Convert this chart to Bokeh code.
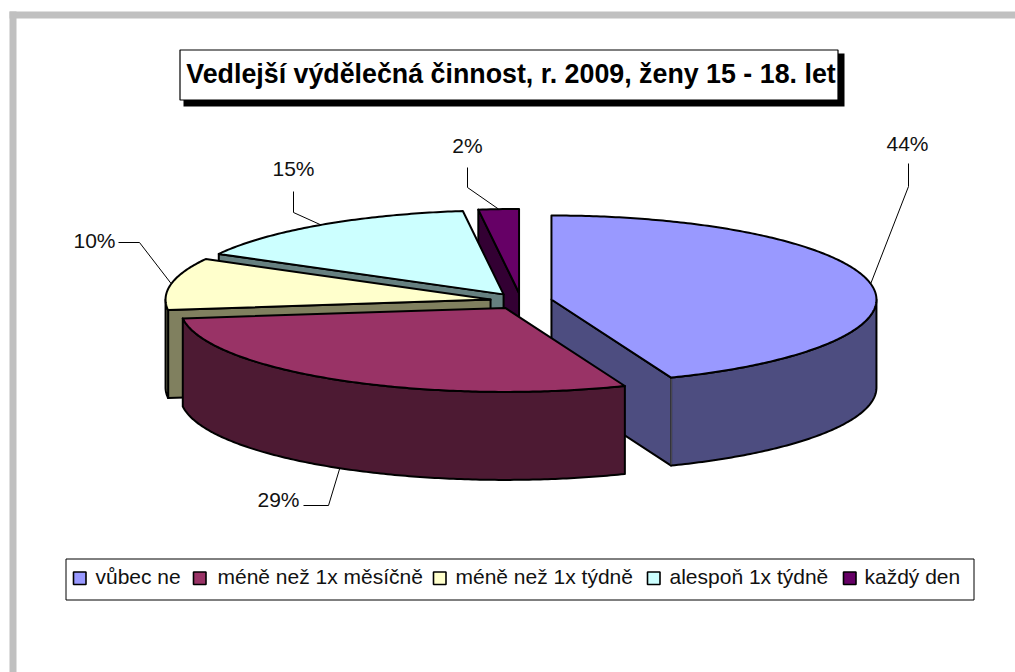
import math
from bokeh.plotting import figure
from bokeh.models import Range1d
from bokeh.core.properties import value
from bokeh.embed import file_html
from bokeh.resources import INLINE

# ---- data ----
categories = ["vůbec ne", "méně než 1x měsíčně", "méně než 1x týdně", "alespoň 1x týdně", "každý den"]
percent = [44, 29, 10, 15, 2]
top_colors = ["#9999FF", "#993366", "#FFFFCC", "#CCFFFF", "#660066"]
wall_colors = ["#4D4D80", "#4D1A33", "#80805F", "#668080", "#330033"]
title = "Vedlejší výdělečná činnost, r. 2009, ženy 15 - 18. let"

# ---- layout of the projected pie ----
CX, CY, RX, RY, DEPTH, EXPLODE = 520.5, 300.5, 325.0, 84.0, 88.0, 31.0
FONT = "Liberation Sans"
elbows = [(908, 186), (328, 505), (139, 242), (293, 212), (467, 187)]
label_ends = [(908, 163), (303, 505), (118, 242), (293, 191), (467, 167)]
label_pos = [(907, 143), (278, 499), (94, 240), (293, 168), (467, 145)]
legend_swatch_x = [73, 193, 433, 647, 843]
legend_text_x = [95, 217, 455, 669, 864]

p = figure(width=1015, height=672, x_range=Range1d(0, 1015), y_range=Range1d(672, 0),
           output_backend="svg", toolbar_location=None, min_border=0,
           x_axis_type=None, y_axis_type=None, background_fill_color="white",
           border_fill_color="white", outline_line_color=None)
p.grid.visible = False

# frame
p.quad(left=[9, 9], right=[1015, 16], top=[11, 11], bottom=[18, 672],
       fill_color="#C0C0C0", line_color=None)


def pt(ox, oy, deg):
    a = math.radians(deg)
    return ox + RX * math.sin(a), oy - RY * math.cos(a)


def arc(ox, oy, a0, a1):
    n = max(2, int(abs(a1 - a0) * 1.5))
    return [pt(ox, oy, a0 + (a1 - a0) * i / n) for i in range(n + 1)]


def poly(points, fill):
    p.patch([q[0] for q in points], [q[1] for q in points], fill_color=fill,
            line_color="black", line_width=2, line_join="round")


# slice geometry from the values
total = sum(percent)
slices = []
acc = 0.0
for i, v in enumerate(percent):
    a0 = acc / total * 360
    acc += v
    a1 = acc / total * 360
    mid = math.radians((a0 + a1) / 2)
    ox = CX + EXPLODE * math.sin(mid)
    oy = CY - EXPLODE * RY / RX * math.cos(mid)
    slices.append((i, a0, a1, (a0 + a1) / 2, ox, oy))

# painter's order: back slices first
for i, a0, a1, mid, ox, oy in [slices[k] for k in (4, 3, 2, 0, 1)]:
    top, wall = top_colors[i], wall_colors[i]
    if 180 < a0 < 360:
        e = pt(ox, oy, a0)
        poly([(ox, oy), e, (e[0], e[1] + DEPTH), (ox, oy + DEPTH)], wall)
    if 0 < a1 < 180:
        e = pt(ox, oy, a1)
        poly([(ox, oy), e, (e[0], e[1] + DEPTH), (ox, oy + DEPTH)], wall)
    lo, hi = max(a0, 90), min(a1, 270)
    if lo < hi:
        rim = arc(ox, oy, lo, hi)
        poly(rim + [(q[0], q[1] + DEPTH) for q in reversed(rim)], wall)
        if 0 < a1 < 180:
            e = pt(ox, oy, a1)
            p.line([e[0], e[0]], [e[1] + 1, e[1] + DEPTH - 1], line_color="#B0B0C8", line_width=0.7)
    poly([(ox, oy)] + arc(ox, oy, a0, a1), top)

# leader lines and labels
for i, a0, a1, mid, ox, oy in slices:
    ax, ay = pt(ox, oy, mid)
    if 90 < mid < 270:
        ay += DEPTH
    p.line([ax, elbows[i][0], label_ends[i][0]], [ay, elbows[i][1], label_ends[i][1]],
           line_color="black", line_width=1)
    p.text([label_pos[i][0]], [label_pos[i][1]], text=[f"{percent[i]}%"],
           text_font=value(FONT), text_font_size="21px", text_color="#111111",
           text_align="center", text_baseline="middle")

# title box
p.quad(left=[183], right=[844], top=[53], bottom=[106], fill_color="black", line_color=None)
p.quad(left=[179.5], right=[837.5], top=[49.5], bottom=[99.5], fill_color="white",
       line_color="black", line_width=1.2)
p.text([510.5], [73], text=[title], text_font=value(FONT), text_font_size="26.8px",
       text_font_style="bold", text_color="black", text_align="center", text_baseline="middle")

# legend
p.quad(left=[65.5], right=[973.5], top=[558.5], bottom=[599.5], fill_color="white",
       line_color="black", line_width=1)
for i, c in enumerate(categories):
    x0 = legend_swatch_x[i]
    p.quad(left=[x0], right=[x0 + 12.5], top=[571.5], bottom=[584], fill_color=top_colors[i],
           line_color="black", line_width=1.6)
    p.text([legend_text_x[i]], [576], text=[c], text_font=value(FONT), text_font_size="21px",
           text_color="#111111", text_align="left", text_baseline="middle")

open("out.html", "w").write(file_html(p, INLINE))
